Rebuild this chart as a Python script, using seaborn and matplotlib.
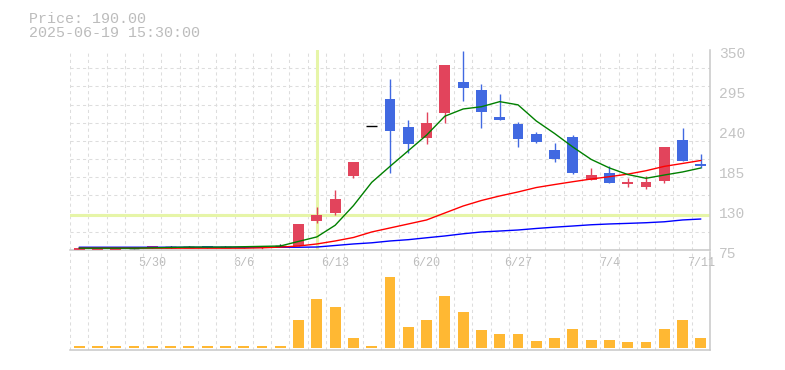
import numpy as np
import pandas as pd
import matplotlib
matplotlib.use("Agg")
import matplotlib.pyplot as plt
from matplotlib.transforms import ScaledTranslation
import seaborn as sns

# ---------------- data ----------------
opens = [75.0, 75.0, 75.5, 77.5, 78.0, 79.0, 79.0, 80.5, 79.0, 79.5,
         78.0, 80.5, 80.0, 115.5, 126.0, 177.0, 245.5, 282.5, 243.5, 229.5,
         264.0, 306.0, 295.0, 258.0, 248.5, 234.5, 212.5, 231.0, 171.5, 181.0,
         165.5, 162.0, 170.0, 226.0, 193.0]
highs = [77.5, 77.5, 79.0, 77.5, 81.0, 80.0, 80.0, 80.5, 80.0, 81.0,
         80.5, 83.3, 111.0, 134.5, 157.5, 196.0, 245.5, 310.0, 254.0, 265.0,
         329.5, 348.5, 303.0, 289.5, 251.0, 237.0, 222.0, 233.0, 188.0, 190.5,
         174.0, 177.0, 217.0, 243.0, 207.0]
lows = [75.0, 75.0, 75.5, 75.8, 77.5, 78.0, 79.0, 78.3, 78.5, 78.0,
        76.0, 80.5, 80.0, 111.5, 123.0, 174.5, 245.5, 181.0, 208.0, 221.0,
        250.0, 280.0, 243.0, 254.0, 217.0, 222.5, 196.0, 179.0, 171.0, 167.5,
        162.0, 159.0, 166.5, 198.0, 188.0]
closes = [77.5, 77.5, 78.0, 77.5, 80.0, 79.0, 79.0, 78.3, 79.0, 78.0,
          80.5, 80.5, 111.0, 123.5, 145.0, 196.0, 245.5, 239.0, 221.0, 249.5,
          329.5, 298.0, 265.0, 254.0, 228.0, 224.0, 200.0, 181.5, 178.0, 167.5,
          168.0, 168.0, 217.0, 198.0, 190.0]
volumes = [2, 2, 2, 2, 2, 2, 2, 2, 2, 2, 2, 2, 28, 49, 41, 10, 2, 71, 21, 28,
           52, 36, 18, 14, 14, 7, 10, 19, 8, 8, 6, 6, 19, 28, 10]
ma_short = [77.5, 77.5, 77.5, 77.5, 78.0, 78.5, 79.0, 79.0, 79.0, 79.5,
            80.0, 80.5, 86.8, 93.0, 109.0, 136.0, 168.0, 190.0, 211.5, 233.0,
            259.0, 268.9, 272.0, 279.0, 274.6, 252.4, 235.2, 216.6, 199.6, 187.8,
            178.8, 173.6, 178.1, 182.3, 187.8]
ma_mid = [77.5, 77.5, 77.5, 77.5, 77.5, 77.5, 77.5, 77.5, 77.5, 77.5,
          78.0, 79.0, 80.5, 83.3, 87.4, 92.2, 99.8, 105.3, 110.8, 116.3,
          125.9, 135.5, 143.1, 149.3, 154.8, 160.9, 165.0, 168.9, 172.6, 175.8,
          179.3, 184.0, 190.0, 194.0, 198.1]
ma_long = [78.8, 78.8, 78.8, 78.8, 78.8, 78.8, 78.8, 78.8, 78.8, 78.8,
           78.8, 78.8, 78.8, 79.1, 81.2, 83.3, 84.9, 87.4, 89.2, 91.8,
           94.3, 97.3, 99.8, 101.1, 102.5, 104.6, 106.4, 108.0, 109.7, 110.8,
           111.6, 112.5, 113.8, 116.3, 117.6]
tick_idx = [4, 9, 14, 19, 24, 29, 34]
tick_labels = ["5/30", "6/6", "6/13", "6/20", "6/27", "7/4", "7/11"]
price_ticks = [350, 295, 240, 185, 130, 75]
cross_idx = 13
title_price = "Price: 190.00"
title_time = "2025-06-19 15:30:00"

# ---------------- style ----------------
sns.set_theme(style="white")
plt.rcParams["font.family"] = ["Liberation Mono", "DejaVu Sans Mono"]

UP = "#e2445c"
DOWN = "#4169e1"
FLAT = "#000000"
VOLC = "#ffb833"
GRID = "#dddddd"
SPINE = "#c8c8c8"
TXT = "#bcbcbc"
CROSS = "#e6f5a8"

n = len(opens)
idx = np.arange(n)
df = pd.DataFrame({"i": idx, "open": opens, "high": highs, "low": lows,
                   "close": closes, "vol": volumes, "ma_s": ma_short,
                   "ma_m": ma_mid, "ma_l": ma_long})
df["color"] = np.where(df["close"] > df["open"], UP,
                       np.where(df["close"] < df["open"], DOWN, FLAT))

W, H = 785, 370
fig = plt.figure(figsize=(W / 100, H / 100), dpi=100)
ax = fig.add_axes([70 / W, 120 / H, 640 / W, 200 / H])
axv = fig.add_axes([70 / W, 20 / H, 640 / W, 98 / H])
axv.patch.set_visible(False)

for a in (ax, axv):
    a.set_xlim(-0.5, n - 0.5)
    a.set_xticks(np.arange(-0.5, n, 1.0), minor=True)
    a.tick_params(which="both", length=0)
    a.grid(False)
    a.grid(True, which="minor", axis="x", color=GRID, lw=0.75,
           linestyle=(0, (3, 3)))
    for s in ("left", "top"):
        a.spines[s].set_visible(False)
    for s in ("right", "bottom"):
        a.spines[s].set_color(SPINE)
        a.spines[s].set_linewidth(1.1)
    a.set_axisbelow(True)

# price axis grid and ticks
ax.set_ylim(75, 350)
ax.set_yticks(np.arange(75, 351, 25), minor=True)
ax.grid(True, which="minor", axis="y", color=GRID, lw=0.75,
        linestyle=(0, (3, 3)))
ax.yaxis.tick_right()
ax.set_yticks(price_ticks)
ax.set_yticklabels([str(t) for t in price_ticks])
ax.tick_params(axis="y", which="major", length=0, pad=6.5,
               labelsize=10.5, labelcolor="#c4c4c4")
for lbl in ax.get_yticklabels():
    lbl.set_va("baseline")
    lbl.set_transform(lbl.get_transform() +
                      ScaledTranslation(0, -0.076, fig.dpi_scale_trans))

ax.set_xticks(tick_idx)
ax.set_xticklabels(tick_labels)
ax.tick_params(axis="x", which="major", length=0, pad=11.3,
               labelsize=8.5, labelcolor=TXT)
for lbl in ax.get_xticklabels():
    lbl.set_va("baseline")

# crosshair
ax.axvline(cross_idx, color=CROSS, lw=2.2, zorder=1)
ax.axhline(df["close"][cross_idx], color=CROSS, lw=2.2, zorder=1)

# candles: wicks, bodies, flat (doji) marks
ax.vlines(df["i"], df["low"], df["high"], colors=df["color"], lw=1.0, zorder=2)
body = df[df["close"] != df["open"]]
ax.bar(body["i"], (body["close"] - body["open"]).abs(),
       bottom=np.minimum(body["open"], body["close"]), width=0.6,
       color=body["color"], linewidth=0, zorder=3)
flat = df[df["close"] == df["open"]]
ax.hlines(flat["close"], flat["i"] - 0.3, flat["i"] + 0.3, colors=FLAT,
          lw=1.0, zorder=3)

# moving averages
sns.lineplot(data=df, x="i", y="ma_l", ax=ax, color="#0000ff", lw=1.0, zorder=4)
sns.lineplot(data=df, x="i", y="ma_m", ax=ax, color="#ff0000", lw=1.0, zorder=4)
sns.lineplot(data=df, x="i", y="ma_s", ax=ax, color="#008000", lw=1.0, zorder=5)
ax.set_xlabel("")
ax.set_ylabel("")
ax.set_xlim(-0.5, n - 0.5)
ax.set_ylim(75, 350)

# volume
sns.barplot(data=df, x="i", y="vol", ax=axv, native_scale=True, width=0.6,
            color=VOLC, saturation=1, errorbar=None, linewidth=0, zorder=3)
axv.set_xlim(-0.5, n - 0.5)
axv.set_ylim(-2, 96)
axv.set_xlabel("")
axv.set_ylabel("")
axv.set_xticks([])
axv.set_xticks(np.arange(-0.5, n, 1.0), minor=True)
axv.set_yticks([])
axv.tick_params(which="both", length=0)
axv.grid(True, which="minor", axis="x", color=GRID, lw=0.75,
         linestyle=(0, (3, 3)))
axv.set_axisbelow(True)

# header text
fig.text(29 / W, 1 - 22.7 / H, title_price, ha="left", va="baseline",
         fontsize=10.8, color=TXT)
fig.text(29 / W, 1 - 37.3 / H, title_time, ha="left", va="baseline",
         fontsize=10.8, color=TXT)

fig.savefig("out.png", dpi=100)
